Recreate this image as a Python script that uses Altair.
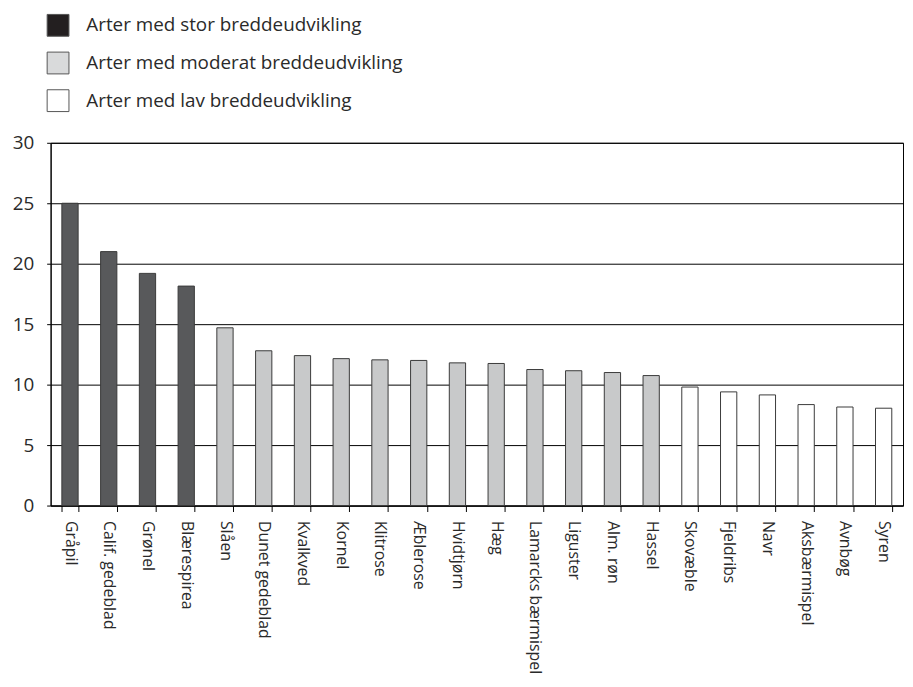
import altair as alt
import pandas as pd

species = ["Gråpil", "Calif. gedeblad", "Grønel", "Blærespirea", "Slåen",
           "Dunet gedeblad", "Kvalkved", "Kornel", "Klitrose", "Æblerose",
           "Hvidtjørn", "Hæg", "Lamarcks bærmispel", "Liguster", "Alm. røn",
           "Hassel", "Skovæble", "Fjeldribs", "Navr", "Aksbærmispel",
           "Avnbøg", "Syren"]
values = [25.0, 21.0, 19.2, 18.15, 14.7, 12.8, 12.4, 12.15, 12.05, 12.0,
          11.8, 11.75, 11.25, 11.15, 11.0, 10.75, 9.8, 9.4, 9.15, 8.35,
          8.15, 8.05]
group_names = ["Arter med stor breddeudvikling",
               "Arter med moderat breddeudvikling",
               "Arter med lav breddeudvikling"]
group_index = [0] * 4 + [1] * 12 + [2] * 6
y_ticks = [0, 5, 10, 15, 20, 25, 30]

bar_colors = ["#58595b", "#c8c9ca", "#ffffff"]
legend_colors = ["#231f20", "#d9dadb", "#ffffff"]

df = pd.DataFrame({
    "art": species,
    "vaerdi": values,
    "gruppe": [group_names[i] for i in group_index],
})

FONT = "Open Sans"
TXT = "#2a2a2a"

bars = alt.Chart(df).mark_bar(stroke="#3a3a3a", strokeWidth=1).encode(
    x=alt.X("art:N", sort=species, title=None,
            scale=alt.Scale(paddingInner=0.58, paddingOuter=0.29),
            axis=alt.Axis(labelAngle=90, tickBand="extent", tickSize=6,
                          labelPadding=9, domainColor="#000", tickColor="#000",
                          labelFontSize=16, labelFont=FONT, labelColor=TXT,
                          grid=False, labelLimit=400)),
    y=alt.Y("vaerdi:Q", title=None,
            scale=alt.Scale(domain=[0, 30], nice=False),
            axis=alt.Axis(values=y_ticks, grid=True, gridColor="#000",
                          gridOpacity=1, gridWidth=1, tickSize=4,
                          tickColor="#000", domainColor="#000",
                          labelPadding=13, labelFontSize=19, labelFont=FONT,
                          labelColor=TXT)),
    color=alt.Color("gruppe:N",
                    scale=alt.Scale(domain=group_names, range=bar_colors),
                    legend=None),
)

legend_layer = alt.Chart(df).mark_square(opacity=0, filled=True).encode(
    color=alt.Color("gruppe:N",
                    scale=alt.Scale(domain=group_names, range=legend_colors),
                    legend=alt.Legend(title=None, orient="none",
                                      legendX=-4, legendY=-130,
                                      symbolType="square", symbolSize=484,
                                      symbolStrokeColor="#555",
                                      symbolStrokeWidth=1, symbolOpacity=1,
                                      labelFontSize=19, labelFont=FONT,
                                      labelColor=TXT, labelOffset=17,
                                      rowPadding=11, padding=0,
                                      labelLimit=600)),
)

chart = alt.layer(bars, legend_layer).resolve_scale(
    color="independent"
).properties(
    width=860, height=366,
    autosize=alt.AutoSizeParams(type="none"),
    padding={"left": 43, "top": 133, "right": 2, "bottom": 172},
).configure_view(stroke="#000", strokeWidth=1)

chart.save("out.html", embed_options={"renderer": "svg", "actions": False})
